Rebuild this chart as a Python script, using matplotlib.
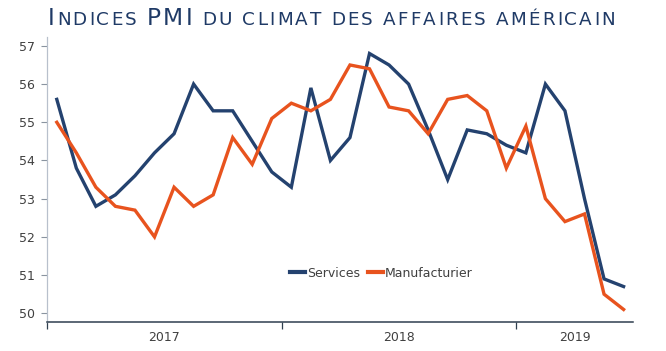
import matplotlib
matplotlib.use("Agg")
import matplotlib.pyplot as plt
from matplotlib.ticker import FixedLocator, NullFormatter, FixedFormatter

months = list(range(30))  # Jan 2017 .. Jun 2019
years = ["2017", "2018", "2019"]
services = [55.6, 53.8, 52.8, 53.1, 53.6, 54.2, 54.7, 56.0, 55.3, 55.3, 54.5, 53.7,
            53.3, 55.9, 54.0, 54.6, 56.8, 56.5, 56.0, 54.8, 53.5, 54.8, 54.7, 54.4,
            54.2, 56.0, 55.3, 53.0, 50.9, 50.7]
manufacturier = [55.0, 54.2, 53.3, 52.8, 52.7, 52.0, 53.3, 52.8, 53.1, 54.6, 53.9, 55.1,
                 55.5, 55.3, 55.6, 56.5, 56.4, 55.4, 55.3, 54.7, 55.6, 55.7, 55.3, 53.8,
                 54.9, 53.0, 52.4, 52.6, 50.5, 50.1]
series_names = ["Services", "Manufacturier"]
yticks = [50, 51, 52, 53, 54, 55, 56, 57]

NAVY = "#24426F"
ORANGE = "#E8531E"
TXT = "#404040"

fig = plt.figure(figsize=(6.66, 3.51), dpi=100)
ax = fig.add_axes([0.0706, 0.0835, 0.951 - 0.0706, 0.8954 - 0.0835])

ax.plot(months, services, color=NAVY, lw=2.4, label=series_names[0], solid_joinstyle="miter")
ax.plot(months, manufacturier, color=ORANGE, lw=2.4, label=series_names[1], solid_joinstyle="miter")

ax.set_xlim(-0.5, 29.5)
ax.set_ylim(49.78, 57.24)

for s in ["top", "right"]:
    ax.spines[s].set_visible(False)
ax.spines["left"].set_color("#B8C0CC")
ax.spines["left"].set_linewidth(0.9)
ax.spines["bottom"].set_color("#2F3F4F")
ax.spines["bottom"].set_linewidth(1.1)

ax.set_yticks(yticks)
ax.set_yticklabels([str(v) for v in yticks])
ax.tick_params(axis="y", direction="out", length=4, width=0.8, color="#8A94A0",
               labelsize=9, labelcolor=TXT, pad=5)

ax.xaxis.set_major_locator(FixedLocator([-0.5, 11.5, 23.5]))
ax.xaxis.set_major_formatter(NullFormatter())
ax.xaxis.set_minor_locator(FixedLocator([5.5, 17.5, 26.5]))
ax.xaxis.set_minor_formatter(FixedFormatter(years))
ax.tick_params(axis="x", which="major", direction="out", length=5, width=0.9, color="#2F3F4F")
ax.tick_params(axis="x", which="minor", length=0, labelsize=9, labelcolor=TXT, pad=7)

leg = ax.legend(loc="center", bbox_to_anchor=(0.57, 0.17), ncol=2, frameon=False,
                fontsize=9, handlelength=1.2, handletextpad=0.2, columnspacing=0.6)
for t in leg.get_texts():
    t.set_color(TXT)
for h in leg.get_lines():
    h.set_linewidth(3)

# Title in small caps, laid out character by character with light tracking
title_pieces = [("I", 1.0), ("NDICES ", 0.79), ("PMI", 1.0), (" DU CLIMAT DES AFFAIRES AMÉRICAIN", 0.79)]
renderer = fig.canvas.get_renderer()
target_left, target_right = 48, 615
W = fig.get_figwidth() * fig.dpi
H = fig.get_figheight() * fig.dpi
big = 16.8
chars = [(c, r) for s, r in title_pieces for c in s]
texts = []

def layout(track):
    for t in texts:
        t.remove()
    texts.clear()
    x = target_left
    for c, r in chars:
        if c == " ":
            t = fig.text(x / W, (H - 25) / H, "\u00a0", fontsize=big * r, family="DejaVu Sans")
        else:
            t = fig.text(x / W, (H - 25) / H, c, fontsize=big * r, color="#1F3A66",
                         family="DejaVu Sans", va="baseline", ha="left")
        texts.append(t)
        bb = t.get_window_extent(renderer)
        x = bb.x1 + track
    return x - track

end0 = layout(0.0)
n_gaps = len(chars) - 1
track = (target_right - end0) / n_gaps
layout(track)

fig.savefig("out.png", dpi=100)
